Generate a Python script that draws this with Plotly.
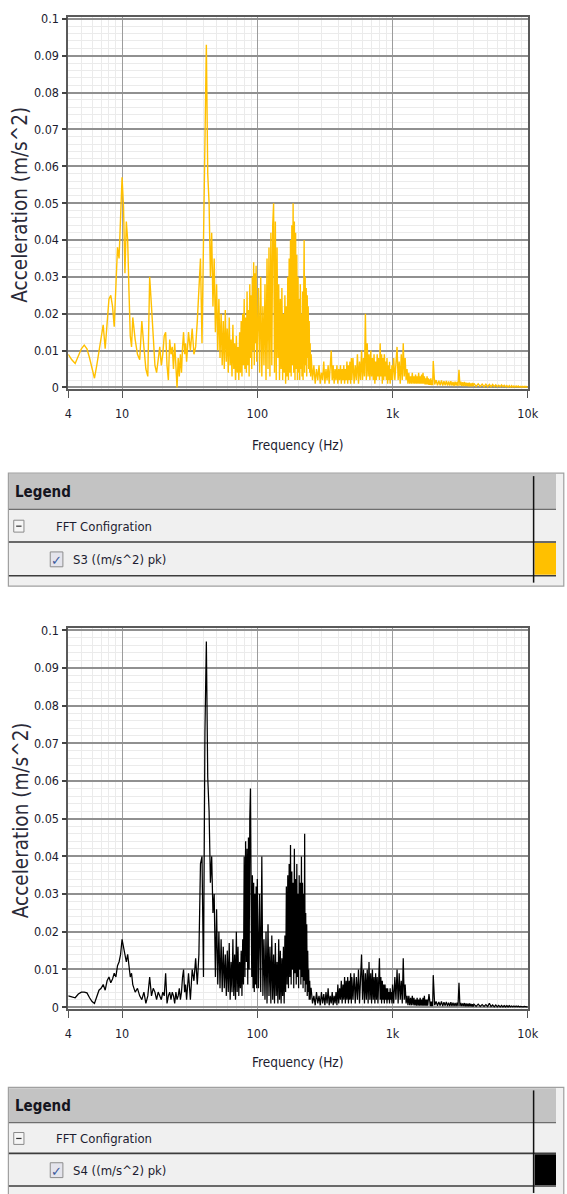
import math
import plotly.graph_objects as go

W, H = 567, 1194

# ---------------- data ----------------
# frequency bins, Hz
FREQ_A = [4, 4.25, 4.5, 4.75, 5, 5.25, 5.5, 5.75, 6, 6.25, 6.5, 6.75, 7, 7.25, 7.5, 7.75,
          8, 8.25, 8.5, 8.75, 9, 9.25, 9.5, 9.75, 10, 10.25, 10.5, 10.75, 11, 11.25, 11.5, 11.75,
          12, 12.5, 13, 13.5, 14, 14.5, 15, 15.5, 16, 16.5, 17, 17.5, 18, 18.5, 19, 19.5,
          20, 20.5, 21, 21.5, 22, 22.5, 23, 23.5, 24, 24.5, 25, 25.5, 26, 26.5, 27, 27.5,
          28, 28.5, 29, 29.5,
          30, 31, 32, 33, 34, 35, 36, 37, 38, 39]
FREQ_B = [40, 41, 42, 43, 44, 45, 46, 47, 48, 49,
          50, 51, 52, 53, 54, 55, 56, 57, 58, 59,
          60, 61, 62, 63, 64, 65, 66, 67, 68, 69,
          70, 71, 72, 73, 74, 75, 76, 77, 78, 79,
          80, 81, 82, 83, 84, 85, 86, 87, 88, 89,
          90, 91, 92, 93, 94, 95, 96, 97, 98, 99]
FREQ_C = [100, 102, 104, 106, 108, 110, 112, 114, 116, 118,
          120, 122, 124, 126, 128, 130, 132, 134, 136, 138,
          140, 142, 144, 146, 148, 150, 152, 154, 156, 158,
          160, 162, 164, 166, 168, 170, 172, 174, 176, 178,
          180, 182, 184, 186, 188, 190, 192, 194, 196, 198,
          200, 202, 204, 206, 208, 210, 212, 214, 216, 218,
          220, 222, 224, 226, 228, 230, 232, 234, 236, 238,
          240, 242, 244, 246, 248]
FREQ_D1 = [250, 256, 262, 268, 274, 280, 286, 292, 298, 304,
           310, 316, 322, 328, 334, 340, 346, 352, 358, 364,
           370, 376, 382, 388, 394, 400, 406, 412, 418, 424,
           430, 436, 442, 448, 454, 460, 466, 472, 478, 484,
           490, 496]
FREQ_D2 = [500, 510, 520, 530, 540, 550, 560, 570, 580, 590,
           600, 610, 620, 630, 640, 650, 660, 670, 680, 690,
           700, 710, 720, 730, 740, 750, 760, 770, 780, 790,
           800, 810, 820, 830, 840, 850, 860, 870, 880, 890,
           900, 910, 920, 930, 940, 950, 960, 970, 980, 990]
FREQ_E = [1000, 1020, 1040, 1060, 1080, 1100, 1120, 1140, 1160, 1180,
          1200, 1220, 1240, 1260, 1280, 1300, 1320, 1340, 1360, 1380,
          1400, 1420, 1440, 1460, 1480, 1500, 1520, 1540, 1560, 1580,
          1600, 1620, 1640, 1660, 1680, 1700, 1720, 1740, 1760, 1780,
          1800, 1820, 1840, 1860, 1880, 1900, 1920, 1940, 1960, 1980]
FREQ_F1 = [2000, 2050, 2100, 2150, 2200, 2250, 2300, 2350, 2400, 2450,
           2500, 2550, 2600, 2650, 2700, 2750, 2800, 2850, 2900, 2950,
           3000, 3050, 3100, 3150, 3200, 3250, 3300, 3350, 3400, 3450,
           3500, 3550, 3600, 3650, 3700, 3750, 3800, 3850, 3900, 3950]
FREQ_F2 = [4000, 4150, 4300, 4450, 4600, 4750, 4900, 5050, 5200, 5350,
           5500, 5650, 5800, 5950, 6100, 6250, 6400, 6550, 6700, 6850,
           7000, 7150, 7300, 7450, 7600, 7750, 7900, 8050, 8200, 8350,
           8500, 8650, 8800, 8950, 9100, 9250, 9400, 9550, 9700, 9850,
           10000]

# S3 acceleration, (m/s^2) pk
S3_A = [.009, .0075, .0065, .0085, .0105, .0115, .0105, .008, .005, .0025, .006, .01, .0145, .017, .0105, .019,
        .024, .025, .022, .0165, .027, .038, .035, .046, .057, .049, .031, .045, .040, .026, .014, .011,
        .019, .013, .009, .0075, .018, .011, .005, .003, .030, .022, .012, .006, .004, .008, .011, .006,
        .009, .014, .015, .006, .002, .013, .009, .011, .005, .012, .004, .000, .008, .003, .009, .004,
        .011, .015, .009, .012,
        .007, .015, .010, .016, .009, .011, .018, .025, .035, .012]
S3_B = [.040, .072, .093, .058, .050, .030, .042, .022, .035, .015,
        .028, .010, .024, .008, .020, .006, .018, .005, .021, .007,
        .016, .004, .019, .006, .013, .003, .017, .005, .012, .002,
        .014, .004, .011, .002, .015, .004, .018, .003, .020, .006,
        .024, .005, .019, .004, .026, .006, .021, .003, .028, .008,
        .025, .005, .030, .010, .034, .006, .031, .012, .033, .007]
S3_C = [.011, .027, .004, .030, .003, .022, .006, .028, .002, .035,
        .005, .038, .003, .042, .006, .044, .050, .004, .045, .002,
        .038, .008, .028, .002, .024, .005, .027, .002, .020, .004,
        .025, .001, .022, .003, .030, .002, .035, .004, .040, .003,
        .044, .006, .050, .004, .045, .002, .042, .005, .036, .002,
        .030, .004, .024, .002, .028, .005, .020, .003, .026, .002,
        .031, .040, .004, .030, .006, .027, .003, .025, .008, .022,
        .005, .018, .004, .012, .003]
S3_D1 = [.009, .002, .006, .001, .005, .002, .006, .001, .004, .002,
         .007, .001, .005, .002, .006, .001, .005, .010, .002, .006,
         .001, .005, .002, .006, .001, .005, .002, .006, .001, .005,
         .002, .006, .001, .005, .002, .007, .001, .006, .002, .007,
         .001, .008]
S3_D2 = [.002, .008, .001, .006, .002, .009, .001, .007, .002, .010,
         .002, .008, .003, .020, .002, .012, .003, .009, .002, .010,
         .003, .008, .002, .009, .001, .007, .002, .009, .003, .008,
         .002, .012, .003, .009, .001, .008, .002, .009, .003, .007,
         .002, .008, .001, .006, .002, .007, .001, .005, .002, .006]
S3_E = [.002, .008, .002, .006, .011, .002, .007, .001, .009, .002,
        .012, .003, .008, .002, .005, .001, .004, .001, .003, .001,
        .004, .001, .003, .001, .0035, .001, .003, .001, .004, .001,
        .003, .001, .0035, .001, .004, .001, .003, .0008, .0025, .0008,
        .003, .0008, .0025, .0007, .0022, .0007, .0025, .0006, .002, .0006]
S3_F1 = [.0072, .0008, .0020, .0006, .0018, .0006, .0019, .0005, .0017, .0006,
         .0018, .0005, .0016, .0005, .0017, .0005, .0015, .0004, .0016, .0005,
         .0015, .0004, .0048, .0005, .0016, .0004, .0014, .0004, .0015, .0004,
         .0013, .0004, .0012, .0003, .0013, .0003, .0011, .0003, .0012, .0003]
S3_F2 = [.0011, .0003, .0010, .0003, .0009, .0002, .0009, .0002, .0008, .0002,
         .0008, .0002, .0007, .0002, .0006, .0002, .0007, .0002, .0006, .0002,
         .0005, .0001, .0005, .0001, .0005, .0001, .0004, .0001, .0004, .0001,
         .0004, .0001, .0003, .0001, .0003, .0001, .0003, .0001, .0003, .0001,
         .0002]

# S4 acceleration, (m/s^2) pk
S4_A = [.003, .0028, .0025, .0035, .004, .004, .0038, .0025, .0015, .001, .003, .0045, .005, .006, .0045, .007,
        .008, .0065, .0075, .009, .008, .011, .012, .014, .018, .016, .013, .012, .014, .011, .008, .009,
        .006, .004, .005, .003, .002, .004, .001, .003, .008, .003, .005, .004, .002, .004, .003, .002,
        .004, .003, .009, .001, .003, .004, .002, .004, .003, .001, .004, .002, .003, .005, .002, .004,
        .008, .010, .004, .006,
        .002, .009, .002, .010, .007, .013, .006, .014, .038, .040]
S4_B = [.008, .073, .097, .061, .052, .033, .040, .025, .030, .008,
        .026, .006, .020, .005, .018, .004, .016, .005, .014, .003,
        .015, .004, .017, .002, .012, .004, .018, .003, .014, .002,
        .020, .004, .016, .003, .012, .005, .015, .003, .018, .006,
        .040, .008, .044, .012, .042, .006, .045, .010, .050, .058,
        .030, .008, .035, .005, .033, .004, .030, .006, .032, .005]
S4_C = [.034, .005, .030, .004, .040, .003, .018, .002, .020, .001,
        .022, .003, .016, .001, .019, .002, .014, .001, .017, .003,
        .012, .001, .018, .002, .015, .001, .013, .003, .016, .001,
        .019, .004, .032, .006, .035, .005, .038, .008, .043, .006,
        .036, .010, .033, .005, .042, .009, .034, .006, .038, .008,
        .030, .005, .035, .010, .033, .006, .040, .008, .033, .005,
        .030, .007, .046, .004, .025, .006, .022, .003, .015, .004,
        .010, .002, .007, .002, .005]
S4_D1 = [.005, .001, .003, .0005, .004, .001, .003, .0005, .004, .001,
         .0035, .0005, .004, .001, .005, .0005, .003, .001, .004, .0005,
         .003, .001, .004, .0005, .006, .001, .005, .002, .007, .001,
         .006, .002, .008, .001, .007, .002, .008, .001, .007, .002,
         .009, .001]
S4_D2 = [.008, .002, .009, .001, .008, .002, .010, .001, .009, .014,
         .002, .010, .001, .009, .002, .010, .001, .012, .002, .009,
         .001, .010, .002, .008, .001, .009, .002, .008, .001, .010,
         .013, .002, .008, .001, .007, .002, .006, .001, .006, .002,
         .005, .001, .005, .002, .004, .001, .005, .002, .004, .001]
S4_E = [.006, .001, .008, .002, .010, .001, .009, .002, .007, .001,
        .013, .002, .006, .001, .003, .0005, .003, .0005, .0025, .0005,
        .003, .0005, .0025, .0005, .002, .0004, .0025, .0004, .002, .0004,
        .0025, .0004, .002, .0004, .0025, .0004, .003, .0004, .002, .0004,
        .002, .0004, .0018, .0035, .002, .0003, .0015, .0003, .0015, .0003]
S4_F1 = [.0085, .0005, .0015, .0004, .0014, .0004, .0015, .0003, .0013, .0004,
         .0014, .0003, .0012, .0003, .0013, .0003, .0012, .0003, .0011, .0003,
         .0012, .0003, .0065, .0003, .0011, .0003, .0010, .0003, .0011, .0002,
         .0010, .0002, .0009, .0002, .0010, .0002, .0009, .0002, .0008, .0002]
S4_F2 = [.0008, .0002, .0008, .0002, .0007, .0002, .0007, .0002, .0010, .0002,
         .0006, .0001, .0006, .0001, .0005, .0001, .0005, .0001, .0004, .0001,
         .0004, .0001, .0004, .0001, .0003, .0001, .0003, .0001, .0003, .0001,
         .0003, .0001, .0002, .0001, .0002, .0001, .0002, .0001, .0002, .0001,
         .0001]

FREQ = FREQ_A + FREQ_B + FREQ_C + FREQ_D1 + FREQ_D2 + FREQ_E + FREQ_F1 + FREQ_F2
S3 = S3_A + S3_B + S3_C + S3_D1 + S3_D2 + S3_E + S3_F1 + S3_F2
S4 = S4_A + S4_B + S4_C + S4_D1 + S4_D2 + S4_E + S4_F1 + S4_F2
assert len(FREQ) == len(S3) == len(S4), (len(FREQ), len(S3), len(S4))

X_TICKS = [4, 10, 100, 1000, 10000]
X_TICK_TEXT = ["4", "10", "100", "1k", "10k"]
X_MINOR = [5, 6, 7, 8, 9, 20, 30, 40, 50, 60, 70, 80, 90,
           200, 300, 400, 500, 600, 700, 800, 900,
           2000, 3000, 4000, 5000, 6000, 7000, 8000, 9000]

SERIES = [
    dict(name="S3", values=S3, color="#FFC000", label="S3 ((m/s^2) pk)", width=1.4),
    dict(name="S4", values=S4, color="#000000", label="S4 ((m/s^2) pk)", width=1.25),
]
X_TITLE = "Frequency (Hz)"
Y_TITLE = "Acceleration (m/s^2)"
LEGEND_HEAD = "Legend"
GROUP_NAME = "FFT Configration"

# ---------------- layout helpers ----------------
FONT = "DejaVu Sans Condensed, Liberation Sans Narrow, Liberation Sans, Arial, sans-serif"
TXT = "#1c1c30"


def px(x):
    return x / W


def py(y):
    return 1 - y / H


# plot frames in pixels: frame top, frame bottom, pixel of y=0.1, pixel of y=0
PLOTS = [(11, 387, 13, 385), (627.5, 1012.5, 630, 1010.5)]
PLOT_L, PLOT_R = 66, 538
# legend panels: box top, header bottom, row-1 bottom, row-2 bottom, box bottom
LEGENDS = [(471.5, 508, 541, 575, 585.5), (1091.5, 1127, 1158, 1191, 1200)]
XLAB_STANDOFF = [5, 5]
XTITLE_Y = [443, 1066]

fig = go.Figure()
shapes = []
annotations = []

for i, (s, (ftop, fbot, p01, p0), lg) in enumerate(zip(SERIES, PLOTS, LEGENDS)):
    xa = "x" if i == 0 else f"x{i+1}"
    ya = "y" if i == 0 else f"y{i+1}"
    fig.add_trace(go.Scatter(
        x=FREQ, y=s["values"], mode="lines", name=s["name"],
        line=dict(color=s["color"], width=s["width"]),
        xaxis=xa, yaxis=ya, showlegend=False, hoverinfo="skip"))

    per_unit = (p0 - p01) / 0.1
    ymin = -(fbot - p0) / per_unit
    ymax = 0.1 + (p01 - ftop) / per_unit

    xkey = "xaxis" if i == 0 else f"xaxis{i+1}"
    ykey = "yaxis" if i == 0 else f"yaxis{i+1}"
    fig.update_layout(**{
        xkey: dict(
            type="log", range=[math.log10(4), 4],
            domain=[px(PLOT_L), px(PLOT_R)], anchor=ya,
            tickmode="array", tickvals=X_TICKS, ticktext=X_TICK_TEXT,
            ticks="outside", ticklen=7, tickwidth=1, tickcolor="#555",
            ticklabelstandoff=XLAB_STANDOFF[i],
            showline=True, linecolor="#5a5a5a", linewidth=1.5, mirror=True,
            showgrid=True, gridcolor="#9c9c9c", gridwidth=1,
            minor=dict(tickmode="array", tickvals=X_MINOR, showgrid=True,
                       gridcolor="#ebebeb", gridwidth=1, ticks=""),
            zeroline=False,
            tickfont=dict(family=FONT, size=12.5, color=TXT),
        ),
        ykey: dict(
            range=[ymin, ymax], domain=[py(fbot), py(ftop)], anchor=xa,
            tick0=0, dtick=0.01,
            ticks="outside", ticklen=5, tickwidth=1.5, tickcolor="#444",
            ticklabelstandoff=0,
            showline=True, linecolor="#5a5a5a", linewidth=1.5, mirror=True,
            showgrid=True, gridcolor="#909090", gridwidth=1.6,
            minor=dict(tick0=0, dtick=0.002, showgrid=True,
                       gridcolor="#ebebeb", gridwidth=1, ticks=""),
            zeroline=False,
            tickfont=dict(family=FONT, size=12.5, color=TXT),
        ),
    })

    # axis titles
    annotations.append(dict(
        text=X_TITLE, x=px((PLOT_L + PLOT_R) / 2 - 1), y=py(XTITLE_Y[i]),
        xref="paper", yref="paper", xanchor="center", yanchor="middle", showarrow=False,
        font=dict(family=FONT, size=13.5, color=TXT)))
    annotations.append(dict(
        text=Y_TITLE, x=px(17), y=py((p01 + p0) / 2 + 2),
        xref="paper", yref="paper", xanchor="center", yanchor="middle", showarrow=False,
        textangle=-90, font=dict(family=FONT, size=20.5, color="#2a2a38")))

    # legend panel
    top, hb, r1, r2, bot = lg
    shapes.append(dict(type="rect", xref="paper", yref="paper",
                       x0=px(4.5), x1=px(575), y0=py(bot), y1=py(top),
                       fillcolor="#f0f0f0", line=dict(color="#a0a0a0", width=1.2), layer="above"))
    shapes.append(dict(type="rect", xref="paper", yref="paper",
                       x0=px(5.2), x1=px(567), y0=py(hb), y1=py(top + 0.8),
                       fillcolor="#c3c3c3", line=dict(width=0), layer="above"))
    shapes.append(dict(type="line", xref="paper", yref="paper",
                       x0=px(5), x1=px(567), y0=py(hb), y1=py(hb),
                       line=dict(color="#6e6e6e", width=1.3), layer="above"))
    for yy in (r1, r2):
        shapes.append(dict(type="line", xref="paper", yref="paper",
                           x0=px(5), x1=px(567), y0=py(yy), y1=py(yy),
                           line=dict(color="#3c3c3c", width=1.6), layer="above"))
    shapes.append(dict(type="rect", xref="paper", yref="paper",
                       x0=px(545), x1=px(567), y0=py(r2 - 1), y1=py(r1 + 1),
                       fillcolor=s["color"], line=dict(width=0), layer="above"))
    shapes.append(dict(type="line", xref="paper", yref="paper",
                       x0=px(544), x1=px(544), y0=py(top + 3), y1=py(r2 + 7),
                       line=dict(color="#111111", width=1.5), layer="above"))
    # collapse box
    cy = (hb + r1) / 2 + 0.5
    shapes.append(dict(type="rect", xref="paper", yref="paper",
                       x0=px(10), x1=px(20.5), y0=py(cy + 6), y1=py(cy - 6),
                       fillcolor="#f6f6f6", line=dict(color="#8a8a8a", width=1), layer="above"))
    shapes.append(dict(type="line", xref="paper", yref="paper",
                       x0=px(12.5), x1=px(18), y0=py(cy), y1=py(cy),
                       line=dict(color="#333", width=1.2), layer="above"))
    # checkbox
    ky = (r1 + r2) / 2 + 0.5
    shapes.append(dict(type="rect", xref="paper", yref="paper",
                       x0=px(47.5), x1=px(60.5), y0=py(ky + 7.5), y1=py(ky - 7.5),
                       fillcolor="#e4e4ec", line=dict(color="#8c8c8c", width=1), layer="above"))
    annotations.append(dict(
        text="✓", x=px(54), y=py(ky + 1), xref="paper", yref="paper",
        xanchor="center", yanchor="middle", showarrow=False,
        font=dict(family="DejaVu Sans", size=13, color="#3b5a9c")))
    annotations.append(dict(
        text=f"<b>{LEGEND_HEAD}</b>", x=px(9), y=py((top + hb) / 2 + 1),
        xref="paper", yref="paper", xanchor="left", yanchor="middle", showarrow=False,
        font=dict(family=FONT, size=15, color="#151520")))
    annotations.append(dict(
        text=GROUP_NAME, x=px(51), y=py((hb + r1) / 2 + 0.5),
        xref="paper", yref="paper", xanchor="left", yanchor="middle", showarrow=False,
        font=dict(family=FONT, size=13, color=TXT)))
    annotations.append(dict(
        text=s["label"], x=px(69), y=py((r1 + r2) / 2 + 0.5),
        xref="paper", yref="paper", xanchor="left", yanchor="middle", showarrow=False,
        font=dict(family=FONT, size=13, color=TXT)))

fig.update_layout(
    width=W, height=H, margin=dict(l=0, r=0, t=0, b=0),
    paper_bgcolor="white", plot_bgcolor="white",
    showlegend=False, shapes=shapes, annotations=annotations,
)

fig.write_html("out.html")
